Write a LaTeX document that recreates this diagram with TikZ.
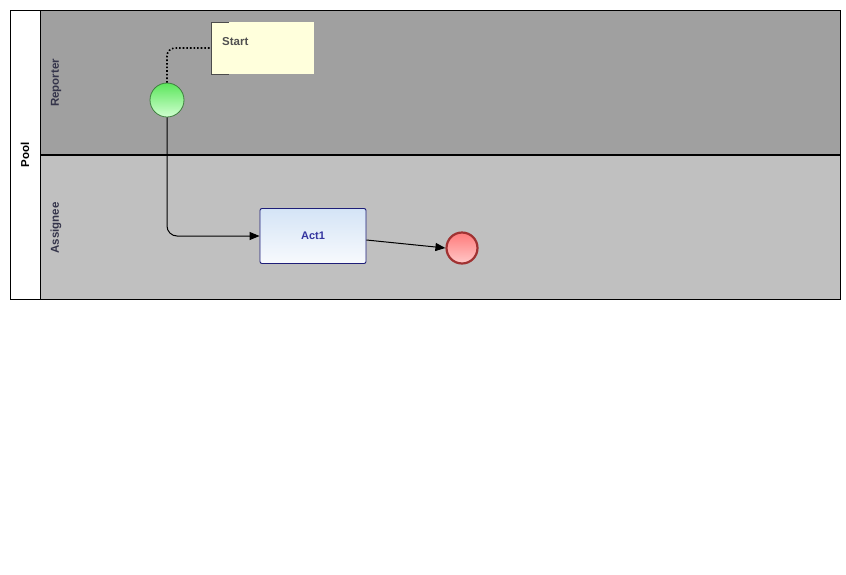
\documentclass[tikz,border=0pt]{standalone}
\usepackage{fontspec}
\setmainfont{Liberation Sans}
\usetikzlibrary{arrows.meta}
\definecolor{reporterbg}{HTML}{A0A0A0}
\definecolor{assigneebg}{HTML}{C0C0C0}
\definecolor{lanetext}{HTML}{34344A}
\definecolor{actborder}{HTML}{1E1E78}
\definecolor{acttext}{HTML}{3535A0}
\definecolor{acttop}{HTML}{D4E4F6}
\definecolor{actbot}{HTML}{F8FAFD}
\definecolor{notefill}{HTML}{FFFFDC}
\definecolor{notetext}{HTML}{505050}
\definecolor{startborder}{HTML}{3F7F3F}
\definecolor{starttop}{HTML}{5CE65C}
\definecolor{startbot}{HTML}{D0FFD0}
\definecolor{endborder}{HTML}{A03232}
\definecolor{endtop}{HTML}{FF7A7A}
\definecolor{endbot}{HTML}{FFC8C8}
\tikzset{
  lanelabel/.style={rotate=90, font=\fontsize{11.5}{13}\selectfont\bfseries, text=lanetext, inner sep=0pt},
  startev/.style={circle, draw=startborder, line width=0.8pt, minimum size=34pt, inner sep=0pt, top color=starttop, bottom color=startbot},
  endev/.style={circle, draw=endborder, line width=2.2pt, minimum size=31pt, inner sep=0pt, top color=endtop, bottom color=endbot},
  actbox/.style={rectangle, rounded corners=2pt, draw=actborder, line width=0.9pt, minimum width=106pt, minimum height=55pt, top color=acttop, bottom color=actbot, font=\fontsize{11}{13}\selectfont\bfseries, text=acttext},
  flow/.style={draw=black, line width=1pt, -{Triangle[length=10pt,width=8pt]}},
  assoc/.style={draw=black, line width=1.6pt, dotted}
}
\begin{document}
\begin{tikzpicture}[x=1pt,y=-1pt]
\useasboundingbox (0,0) rectangle (846,574);
\fill[white] (0,0) rectangle (846,574);
% lanes
\fill[reporterbg] (40,10) rectangle (840,155);
\fill[assigneebg] (40,155) rectangle (840,299);
\draw[black, line width=1pt] (10,10) rectangle (840,299);
\draw[black, line width=1pt] (40,10) -- (40,299);
\draw[black, line width=2pt] (40,155) -- (840,155);
% labels
\node[lanelabel, text=black] (pool) at (25,155) {Pool};
\node[lanelabel] (reporter) at (56,83) {Reporter};
\node[lanelabel] (assignee) at (56,228) {Assignee};
% annotation
\fill[notefill] (211,22) rectangle (314,74);
\draw[black!70, line width=1pt] (229,22) -- (211,22) -- (211,74) -- (229,74);
\coordinate (noteanchor) at (211,48);
\node[anchor=west, font=\fontsize{11.5}{13}\selectfont\bfseries, text=notetext, inner sep=0pt] (starttext) at (222,42) {Start};
% nodes
\node[startev] (start) at (167,100) {};
\node[actbox] (act) at (313,236) {Act1};
\node[endev] (end) at (462,248) {};
% connectors
\draw[assoc, rounded corners=8pt] (start.north) |- (noteanchor);
\draw[flow, rounded corners=10pt] (start.south) |- (act.west);
\draw[flow] ([yshift=-4pt]act.east) -- (end.west);
\end{tikzpicture}
\end{document}
